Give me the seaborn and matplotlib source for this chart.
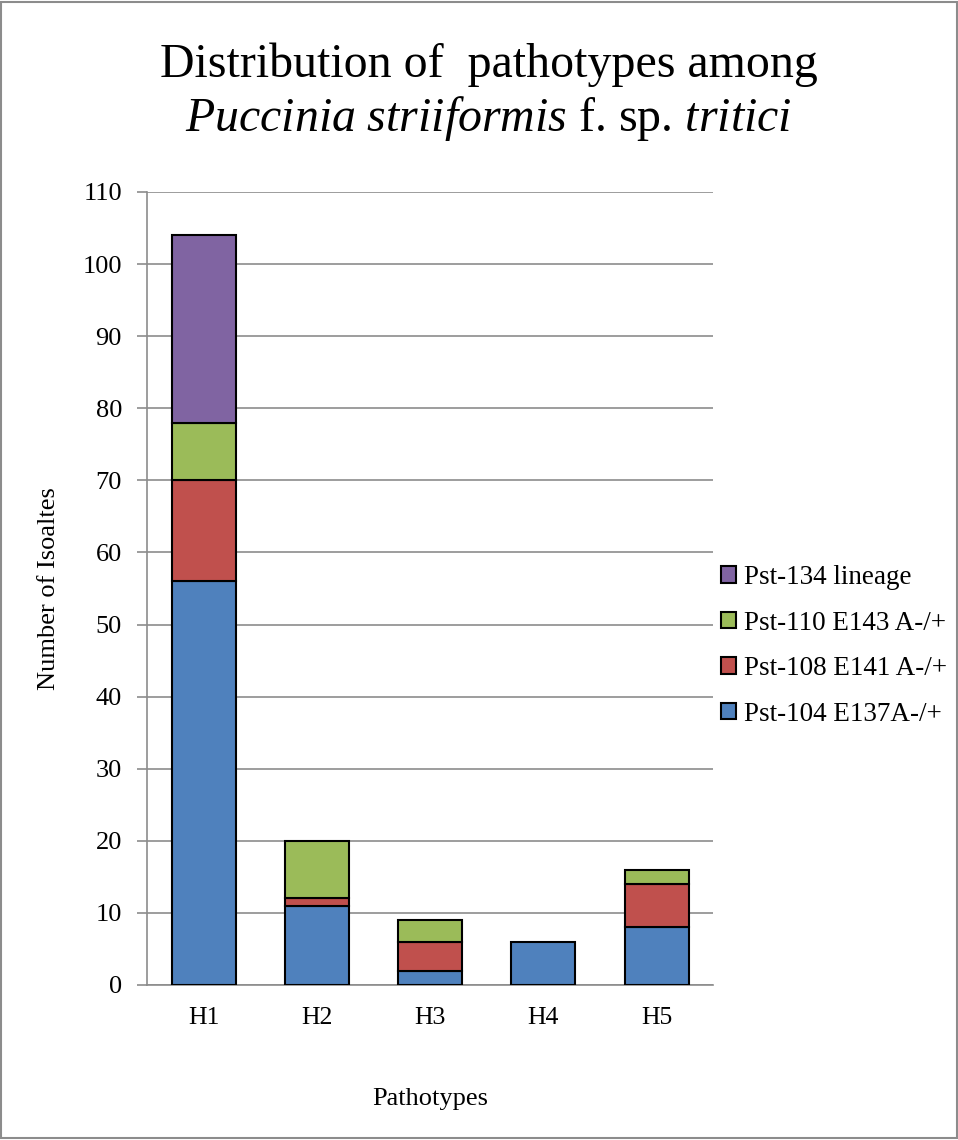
import matplotlib
matplotlib.use("Agg")
import matplotlib.pyplot as plt
from matplotlib.patches import Rectangle
import numpy as np
import pandas as pd
import seaborn as sns

# Isolate counts per pathotype, split by lineage
pathotypes = ["H1", "H2", "H3", "H4", "H5"]
pst104 = [56, 11, 2, 6, 8]
pst108 = [14, 1, 4, 0, 6]
pst110 = [8, 8, 3, 0, 2]
pst134 = [26, 0, 0, 0, 0]

series_names = ["Pst-104 E137A-/+", "Pst-108 E141 A-/+", "Pst-110 E143 A-/+", "Pst-134 lineage"]
series_values = [pst104, pst108, pst110, pst134]
colors = ["#4F81BD", "#C0504D", "#9BBB59", "#8064A2"]
y_ticks = list(range(0, 111, 10))

sns.set_theme(style="white")
plt.rcParams["font.family"] = ["Liberation Serif", "DejaVu Serif"]
plt.rcParams["mathtext.fontset"] = "custom"
plt.rcParams["mathtext.rm"] = "Liberation Serif"
plt.rcParams["mathtext.it"] = "Liberation Serif:italic"
plt.rcParams["text.color"] = "black"
plt.rcParams["axes.labelcolor"] = "black"

fig = plt.figure(figsize=(9.58, 11.4), dpi=100)
ax = fig.add_axes([0.1534, 0.1360, 0.5910, 0.6956])

bottom = np.zeros(len(pathotypes))
handles = []
for name, vals, col in zip(series_names, series_values, colors):
    df = pd.DataFrame({"pathotype": pathotypes, "count": vals})
    sns.barplot(data=df, x="pathotype", y="count", color=col, bottom=bottom,
                width=0.565, edgecolor="black", linewidth=1.5, ax=ax,
                saturation=1, zorder=3)
    handles.append(Rectangle((0, 0), 1, 1, facecolor=col, edgecolor="black", linewidth=1.5))
    bottom = bottom + np.array(vals)

# hide the outlines of empty segments
for p in ax.patches:
    if p.get_height() == 0:
        p.set_visible(False)

ax.set_ylim(0, 110)
ax.set_xlim(-0.5, 4.5)
ax.set_yticks(y_ticks)
ax.yaxis.grid(True, color="#8C8C8C", linewidth=1.2, zorder=0)
ax.set_axisbelow(True)
for s in ["top", "right"]:
    ax.spines[s].set_visible(False)
for s in ["left", "bottom"]:
    ax.spines[s].set_color("#8C8C8C")
    ax.spines[s].set_linewidth(1.2)

ax.set_xticks(range(len(pathotypes)))
ax.set_xticklabels(pathotypes)
ax.set_xticks(np.arange(-0.5, 5.0, 1.0), minor=True)
ax.tick_params(axis="x", which="major", length=0, labelsize=18.5, pad=16, colors="black")
ax.tick_params(axis="x", which="minor", length=7, width=1.2, color="#8C8C8C", direction="out")
ax.tick_params(axis="y", length=7, width=1.2, color="#8C8C8C", direction="out",
               labelsize=19, pad=11, left=True, labelcolor="black")

ax.set_xlabel("Pathotypes", fontsize=19, labelpad=42)
ax.set_ylabel("Number of Isoaltes", fontsize=19, labelpad=16)

leg = fig.legend(handles[::-1], series_names[::-1], loc="center left",
                 bbox_to_anchor=(0.753, 0.4335), frameon=False, fontsize=19.5,
                 handlelength=0.55, handleheight=0.55, handletextpad=0.3,
                 labelspacing=0.76, borderpad=0.0, borderaxespad=0.0)

fig.text(0.51, 0.943, "Distribution of  pathotypes among", ha="center", va="center", fontsize=34.5)
fig.text(0.51, 0.896, r"$\mathit{Puccinia\ striiformis}$ f. sp. $\mathit{tritici}$",
         ha="center", va="center", fontsize=34.5)

fig.patches.append(Rectangle((0.0015, 0.0015), 0.997, 0.997, transform=fig.transFigure,
                             fill=False, edgecolor="#8C8C8C", linewidth=1.5))

fig.savefig("out.png", dpi=100, facecolor="white")
